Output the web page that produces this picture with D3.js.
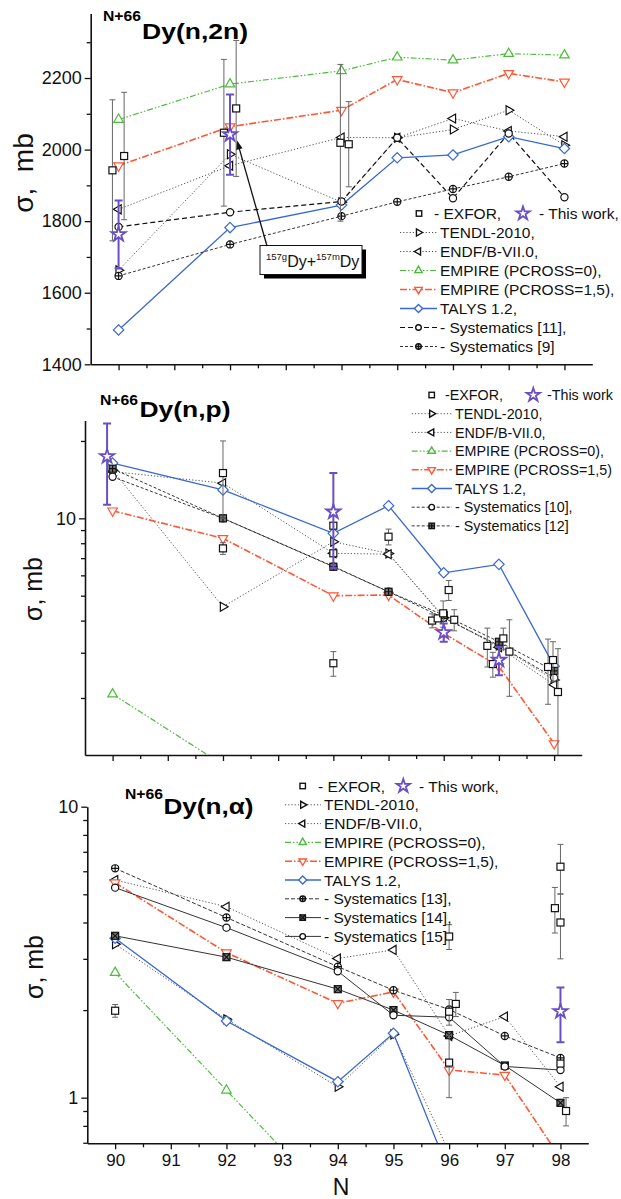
<!DOCTYPE html>
<html><head><meta charset="utf-8">
<script src="https://cdn.jsdelivr.net/npm/d3@7"></script>
<style>
body{margin:0;background:#fff}
text{font-family:"Liberation Sans",Arial,Helvetica,sans-serif}
</style>
</head><body>
<svg id="c" width="621" height="1199" xmlns="http://www.w3.org/2000/svg"></svg>
<script>
// ---------------- DATA ----------------
const N_TICKS = [90, 91, 92, 93, 94, 95, 96, 97, 98];
const N_HALF = [90.5, 91.5, 92.5, 93.5, 94.5, 95.5, 96.5, 97.5];
const N_CALC = [90, 92, 94, 95, 96, 97, 98];

// (n,2n), mb
const n2n_TENDL   = [1663, 1987, 1853, 2033, 2056, 2110, 2012];
const n2n_ENDF    = [1833, 1955, 2034, 2033, 2087, 2052, 2036];
const n2n_EMPIRE0 = [2084, 2183, 2220, 2258, 2250, 2268, 2264];
const n2n_EMPIRE15= [1955, 2064, 2110, 2196, 2159, 2213, 2189];
const n2n_TALYS   = [1496, 1782, 1845, 1977, 1985, 2036, 2003];
const n2n_SYST11  = [1784, 1825, 1855, 2033, 1864, 2045, 1867];
const n2n_SYST9   = [1647, 1735, 1814, 1854, 1890, 1924, 1961];
const n2n_EXFOR_N   = [89.89, 90.1, 91.89, 92.11, 93.98, 94.13];
const n2n_EXFOR_Y   = [1942, 1982, 2047, 2115, 2019, 2015];
const n2n_EXFOR_ERR = [197, 178, 205, 190, 219, 119];
const n2n_THIS_N  = [90, 92];
const n2n_THIS_Y  = [1763, 2042];
const n2n_THIS_LO = [1668, 1930];
const n2n_THIS_HI = [1858, 2154];
const n2n_TICKS = [1400, 1600, 1800, 2000, 2200];
const n2n_MINOR = [1500, 1700, 1900, 2100, 2300];

// (n,p), mb
const np_TENDL    = [15.4, 4.53, 8.11, 7.3, 4.1, 3.2, 2.35];
const np_ENDF     = [15.2, 13.7, 7.31, 7.25, 4.15, 3.15, 2.25];
const np_EMPIRE0_N = [90, 92];
const np_EMPIRE0  = [2.07, 1.1];
const np_EMPIRE15 = [10.7, 8.36, 5.0, 5.03, 3.57, 2.65, 1.33];
const np_TALYS    = [16.4, 12.9, 8.74, 11.2, 6.14, 6.62, 2.66];
const np_SYST10   = [14.5, 10.0, 6.5, 5.18, 4.1, 3.2, 2.4];
const np_SYST12   = [15.6, 10.0, 6.48, 5.18, 4.2, 3.31, 2.55];
const np_EXFOR_N   = [92, 92, 94, 94, 94, 95, 95.79, 95.89, 95.99, 96.09, 96.19, 96.79, 96.89, 97.08, 97.19, 97.89, 97.98, 98.07];
const np_EXFOR_Y   = [15.0, 7.64, 9.36, 7.31, 2.73, 8.48, 4.0, 4.08, 4.27, 5.26, 4.03, 3.19, 2.71, 3.41, 3.03, 2.64, 2.81, 2.11];
const np_EXFOR_ERR = [5.0, 0.4, 0, 0, 0.3, 0.6, 0.25, 0, 0.5, 0.47, 0.38, 0.55, 0.3, 0.33, 1.0, 0.75, 0.5, 1.0];
const np_THIS_N  = [89.9, 94, 96, 97];
const np_THIS_Y  = [17.4, 10.6, 3.6, 2.81];
const np_THIS_LO = [11.3, 6.4, 3.31, 2.45];
const np_THIS_HI = [23.4, 15.0, 3.9, 3.16];
const np_TICKS = [10];
const np_MINOR = [2, 3, 4, 5, 6, 7, 8, 9, 20];

// (n,alpha), mb
const na_TENDL_N  = [90, 92, 94, 95, 96];
const na_TENDL    = [3.37, 1.86, 1.09, 1.65, 0.65];
const na_ENDF     = [5.6, 4.53, 3.01, 3.22, 1.63, 1.9, 1.09];
const na_EMPIRE0_N = [90, 92, 94];
const na_EMPIRE0  = [2.69, 1.06, 0.42];
const na_EMPIRE15 = [5.48, 3.15, 2.11, 2.31, 1.245, 1.196, 0.62];
const na_TALYS_N  = [90, 92, 94, 95, 96];
const na_TALYS    = [3.53, 1.835, 1.135, 1.665, 0.553];
const na_SYST13   = [6.14, 4.16, 2.82, 2.34, 2.01, 1.63, 1.37];
const na_SYST14   = [3.60, 3.04, 2.36, 2.0, 1.64, 1.29, 0.96];
const na_SYST15   = [5.27, 3.84, 2.72, 1.92, 1.89, 1.28, 1.245];
const na_EXFOR_N   = [90, 96, 96, 96.12, 96, 97.9, 98, 98, 98.1, 98];
const na_EXFOR_Y   = [1.99, 3.58, 1.975, 2.1, 1.32, 4.48, 6.22, 4.0, 0.9, 1.31];
const na_EXFOR_ERR = [0.1, 0.35, 0.2, 0.2, 0.32, 0.8, 1.2, 1.0, 0.1, 0];
const na_THIS_N  = [98];
const na_THIS_Y  = [1.98];
const na_THIS_LO = [1.55];
const na_THIS_HI = [2.39];
const na_TICKS = [1, 10];
const na_MINOR = [0.7, 0.8, 0.9, 2, 3, 4, 5, 6, 7, 8, 9];

// ---------------- STYLES ----------------
const GREEN = '#4cbc3c', RED = '#ff5634', BLUE = '#3a68d2', PURPLE = '#6a4fc4';
const ST = {
  TENDL:  {stroke:'#555', dash:'1.2,2', w:1, sym:'tri-r', sc:'#111'},
  ENDF:   {stroke:'#555', dash:'1.2,2', w:1, sym:'tri-l', sc:'#111'},
  EMP0:   {stroke:GREEN, dash:'6,2,1.5,2,1.5,2', w:1.2, sym:'tri-u', sc:GREEN},
  EMP15:  {stroke:RED, dash:'7,2,1.5,2', w:1.6, sym:'tri-d', sc:RED},
  TALYS:  {stroke:BLUE, dash:null, w:1.3, sym:'dia', sc:BLUE},
  SYSa:   {stroke:'#111', dash:'5,3', w:1.2, sym:'circ', sc:'#111'},
  SYSb:   {stroke:'#333', dash:'3,2', w:1, sym:'circ-plus', sc:'#111'},
  SYSc:   {stroke:'#333', dash:'3,2', w:1, sym:'circ', sc:'#111'},
  SYSd:   {stroke:'#333', dash:'3,2', w:1, sym:'sq-plus', sc:'#111'},
  SYSe:   {stroke:'#333', dash:'4,2', w:1, sym:'circ-plus', sc:'#111'},
  SYSf:   {stroke:'#333', dash:null, w:1, sym:'sq-x', sc:'#111'},
  SYSg:   {stroke:'#333', dash:null, w:1, sym:'circ', sc:'#111'}
};

const svg = d3.select('#c');

function triPath(r, ang){
  const pts = [0,120,240].map(a => {
    const t = (ang + a) * Math.PI/180;
    return [r*Math.cos(t), r*Math.sin(t)];
  });
  return 'M' + pts.map(p => p[0].toFixed(2)+','+p[1].toFixed(2)).join('L') + 'Z';
}

function drawSym(g, type, cx, cy, color, k){
  k = k || 1;
  const s = g.append('g').attr('transform', `translate(${cx},${cy}) scale(${k})`);
  const base = {fill:'#fff', stroke:color, 'stroke-width':1.2/k*(k<1?1.15:1)};
  const ap = (el, o) => { for (const kk in o) el.attr(kk, o[kk]); return el; };
  if (type === 'sq') ap(s.append('rect').attr('x',-3.5).attr('y',-3.5).attr('width',7).attr('height',7), base);
  else if (type === 'tri-u') ap(s.append('path').attr('d', triPath(5.5,-90)), base);
  else if (type === 'tri-d') ap(s.append('path').attr('d', triPath(5.5,90)), base);
  else if (type === 'tri-r') ap(s.append('path').attr('d', triPath(5.2,0)), base);
  else if (type === 'tri-l') ap(s.append('path').attr('d', triPath(5.2,180)), base);
  else if (type === 'dia') ap(s.append('path').attr('d','M0,-5.2L5.2,0L0,5.2L-5.2,0Z'), base);
  else if (type === 'circ') ap(s.append('circle').attr('r',3.6), base);
  else if (type === 'circ-plus'){
    ap(s.append('circle').attr('r',3.6), base);
    s.append('path').attr('d','M-3.6,0H3.6M0,-3.6V3.6').attr('stroke',color).attr('stroke-width',base['stroke-width']);
  } else if (type === 'sq-plus'){
    ap(s.append('rect').attr('x',-3.5).attr('y',-3.5).attr('width',7).attr('height',7), base).attr('fill','#777');
    s.append('path').attr('d','M-3.5,0H3.5M0,-3.5V3.5').attr('stroke',color).attr('stroke-width',base['stroke-width']);
  } else if (type === 'sq-x'){
    ap(s.append('rect').attr('x',-3.5).attr('y',-3.5).attr('width',7).attr('height',7), base).attr('fill','#777');
    s.append('path').attr('d','M-3.5,-3.5L3.5,3.5M-3.5,3.5L3.5,-3.5').attr('stroke',color).attr('stroke-width',base['stroke-width']);
  } else if (type === 'star'){
    s.append('path').attr('d', d3.symbol(d3.symbolStar, 62)()).attr('fill','#fff').attr('stroke',color).attr('stroke-width',1.8/k);
  }
}

function panel(cfg){
  const g = svg.append('g');
  const x = d3.scaleLinear().domain([89.5, 98.5]).range([cfg.xl, cfg.xr]);
  const y = cfg.log ? d3.scaleLog().domain(cfg.yDom).range([cfg.yb, cfg.yt])
                    : d3.scaleLinear().domain(cfg.yDom).range([cfg.yb, cfg.yt]);
  const cid = 'clip' + cfg.id;
  svg.append('clipPath').attr('id', cid).append('rect')
    .attr('x', cfg.xl).attr('y', cfg.yt).attr('width', cfg.xr - cfg.xl).attr('height', cfg.yb - cfg.yt);
  const pg = g.append('g').attr('clip-path', `url(#${cid})`);

  const line = d3.line().x(d => x(d[0])).y(d => y(d[1]));
  cfg.series.forEach(s => {
    const st = ST[s.st];
    const pts = s.n.map((n, i) => [n, s.v[i]]);
    const p = pg.append('path').attr('d', line(pts)).attr('fill','none')
      .attr('stroke', st.stroke).attr('stroke-width', st.w);
    if (st.dash) p.attr('stroke-dasharray', st.dash);
  });
  cfg.series.forEach(s => {
    const st = ST[s.st];
    s.n.forEach((n, i) => drawSym(pg, st.sym, x(n), y(s.v[i]), st.sc));
  });
  // EXFOR
  const ex = cfg.exfor;
  ex.n.forEach((n, i) => {
    const e = ex.err[i];
    if (e > 0){
      const lo = Math.max(ex.y[i] - e, cfg.yDom[0] * 0.5);
      const x0 = x(n), y1 = y(ex.y[i] + e), y0 = y(lo);
      pg.append('path').attr('d', `M${x0},${y1}V${y0}M${x0-3},${y1}H${x0+3}M${x0-3},${y0}H${x0+3}`)
        .attr('stroke','#666').attr('stroke-width',1).attr('fill','none');
    }
  });
  ex.n.forEach((n, i) => drawSym(pg, 'sq', x(n), y(ex.y[i]), '#111'));
  // This work
  const tw = cfg.tw;
  tw.n.forEach((n, i) => {
    const x0 = x(n), y1 = y(tw.hi[i]), y0 = y(tw.lo[i]);
    pg.append('path').attr('d', `M${x0},${y1}V${y0}M${x0-4},${y1}H${x0+4}M${x0-4},${y0}H${x0+4}`)
      .attr('stroke', PURPLE).attr('stroke-width',2).attr('fill','none');
  });
  tw.n.forEach((n, i) => drawSym(pg, 'star', x(n), y(tw.y[i]), PURPLE));

  // Axes
  const xa = g.append('g').attr('transform', `translate(0,${cfg.yb})`)
    .call(d3.axisBottom(x).tickValues(N_TICKS).tickSize(6).tickSizeOuter(0)
      .tickFormat(cfg.xLabels ? d3.format('d') : () => ''));
  g.append('g').attr('transform', `translate(0,${cfg.yb})`)
    .call(d3.axisBottom(x).tickValues(N_HALF).tickSize(4).tickFormat(() => ''))
    .call(a => a.select('.domain').remove());
  const fmt = cfg.log ? (d => String(d)) : d3.format('d');
  const ya = g.append('g').attr('transform', `translate(${cfg.xl},0)`)
    .call(d3.axisLeft(y).tickValues(cfg.ticks).tickSize(6).tickSizeOuter(0).tickFormat(fmt));
  g.append('g').attr('transform', `translate(${cfg.xl},0)`)
    .call(d3.axisLeft(y).tickValues(cfg.minor).tickSize(4).tickFormat(() => ''))
    .call(a => a.select('.domain').remove());
  g.selectAll('.domain').attr('stroke','#111').attr('stroke-width',1.6);
  g.selectAll('.tick line').attr('stroke','#111').attr('stroke-width',1.3);
  ya.selectAll('text').attr('font-size', 18).attr('font-family','Liberation Sans, Arial, sans-serif').attr('fill','#111').attr('x', -9);
  xa.selectAll('text').attr('font-size', 17).attr('font-family','Liberation Sans, Arial, sans-serif').attr('fill','#111').attr('y', 11);

  // Title
  g.append('text').attr('x', cfg.title.sx).attr('y', cfg.title.sy).attr('font-size', 14).attr('font-weight','bold')
    .attr('textLength', 38).attr('lengthAdjust','spacingAndGlyphs').text('N+66');
  g.append('text').attr('x', cfg.title.mx).attr('y', cfg.title.my).attr('font-size', 22).attr('font-weight','bold')
    .attr('textLength', cfg.title.mw).attr('lengthAdjust','spacingAndGlyphs').text(cfg.title.text);
  // Y label
  g.append('text').attr('transform', `translate(${cfg.ylab.x},${cfg.ylab.y}) rotate(-90)`)
    .attr('text-anchor','middle').attr('font-size', cfg.ylab.fs).attr('fill','#111')
    .attr('xml:space','preserve').style('white-space','pre').text(cfg.ylab.text);

  // Legend
  const L = cfg.legend;
  const K = 0.78;
  const lg = g.append('g').attr('font-size', L.fs).attr('fill','#111');
  drawSym(lg, 'sq', L.sq, L.y0, '#111', K);
  lg.append('text').attr('x', L.exT).attr('y', L.y0 + L.fs*0.36).text(L.exText);
  drawSym(lg, 'star', L.st, L.y0, PURPLE, 0.95);
  lg.append('text').attr('x', L.twT).attr('y', L.y0 + L.fs*0.36).text(L.twText);
  L.items.forEach((it, i) => {
    const yy = L.y0 + (i + 1) * L.dy;
    const st = ST[it.st];
    const p = lg.append('path').attr('d', `M${L.lx0},${yy}H${L.lx1}`).attr('stroke', st.stroke)
      .attr('stroke-width', st.w).attr('fill','none');
    if (st.dash) p.attr('stroke-dasharray', st.dash);
    drawSym(lg, st.sym, L.sx, yy, st.sc, K);
    lg.append('text').attr('x', L.tx).attr('y', yy + L.fs*0.36).text(it.label);
  });
  return {x, y, g};
}

// ---------- TOP PANEL (n,2n) ----------
const P1 = panel({
  id: 1, xl: 90.7, xr: 592.3, yt: 13.6, yb: 364.3, log: false, yDom: [1400, 2380],
  ticks: n2n_TICKS, minor: n2n_MINOR, xLabels: false,
  series: [
    {st:'TENDL', n:N_CALC, v:n2n_TENDL},
    {st:'ENDF', n:N_CALC, v:n2n_ENDF},
    {st:'EMP0', n:N_CALC, v:n2n_EMPIRE0},
    {st:'EMP15', n:N_CALC, v:n2n_EMPIRE15},
    {st:'TALYS', n:N_CALC, v:n2n_TALYS},
    {st:'SYSa', n:N_CALC, v:n2n_SYST11},
    {st:'SYSb', n:N_CALC, v:n2n_SYST9}
  ],
  exfor: {n:n2n_EXFOR_N, y:n2n_EXFOR_Y, err:n2n_EXFOR_ERR},
  tw: {n:n2n_THIS_N, y:n2n_THIS_Y, lo:n2n_THIS_LO, hi:n2n_THIS_HI},
  title: {sx:103, sy:21, mx:142, my:38.5, mw:106, text:'Dy(n,2n)'},
  ylab: {x:33, y:173, fs:28, text:'σ,  mb'},
  legend: {fs:15.5, y0:213.5, dy:19, sq:419, exT:434, exText:'- EXFOR,', st:523, twT:539, twText:'- This work,',
    lx0:400, lx1:437, sx:418.5, tx:440,
    items:[{st:'TENDL',label:'TENDL-2010,'},{st:'ENDF',label:'ENDF/B-VII.0,'},
      {st:'EMP0',label:'EMPIRE (PCROSS=0),'},{st:'EMP15',label:'EMPIRE (PCROSS=1,5),'},
      {st:'TALYS',label:'TALYS 1.2,'},{st:'SYSa',label:'- Systematics [11],'},{st:'SYSb',label:'- Systematics [9]'}]}
});

// annotation box
(function(){
  const g = P1.g;
  const tx = P1.x(92), ty = P1.y(2042);
  g.append('rect').attr('x', 264).attr('y', 249.5).attr('width', 102).attr('height', 29).attr('fill','#000');
  g.append('rect').attr('x', 260).attr('y', 245.5).attr('width', 102).attr('height', 29)
    .attr('fill','#fff').attr('stroke','#111').attr('stroke-width',1);
  const t = g.append('text').attr('x', 266).attr('y', 267).attr('font-size',16).attr('fill','#111');
  t.append('tspan').attr('font-size',9.5).attr('dy',-7).text('157g');
  t.append('tspan').attr('dy',7).text('Dy+');
  t.append('tspan').attr('font-size',9.5).attr('dy',-7).text('157m');
  t.append('tspan').attr('dy',7).text('Dy');
  const x0 = 267, y0 = 246, x1 = tx + 7, y1 = ty + 6;
  const ang = Math.atan2(y1 - y0, x1 - x0);
  g.append('path').attr('d', `M${x0},${y0}L${x1 - 6*Math.cos(ang)},${y1 - 6*Math.sin(ang)}`)
    .attr('stroke','#111').attr('stroke-width',1.3);
  const hl = 9, hw = 3.2;
  const bx = x1 - hl*Math.cos(ang), by = y1 - hl*Math.sin(ang);
  g.append('path').attr('d', `M${x1},${y1}L${bx + hw*Math.sin(ang)},${by - hw*Math.cos(ang)}L${bx - hw*Math.sin(ang)},${by + hw*Math.cos(ang)}Z`)
    .attr('fill','#111');
})();

// ---------- MIDDLE PANEL (n,p) ----------
panel({
  id: 2, xl: 85, xr: 581.7, yt: 420.6, yb: 755, log: true, yDom: [1.2, 24],
  ticks: np_TICKS, minor: np_MINOR, xLabels: false,
  series: [
    {st:'TENDL', n:N_CALC, v:np_TENDL},
    {st:'ENDF', n:N_CALC, v:np_ENDF},
    {st:'EMP0', n:np_EMPIRE0_N, v:np_EMPIRE0},
    {st:'EMP15', n:N_CALC, v:np_EMPIRE15},
    {st:'TALYS', n:N_CALC, v:np_TALYS},
    {st:'SYSc', n:N_CALC, v:np_SYST10},
    {st:'SYSd', n:N_CALC, v:np_SYST12}
  ],
  exfor: {n:np_EXFOR_N, y:np_EXFOR_Y, err:np_EXFOR_ERR},
  tw: {n:np_THIS_N, y:np_THIS_Y, lo:np_THIS_LO, hi:np_THIS_HI},
  title: {sx:100, sy:405, mx:139.5, my:416.5, mw:91, text:'Dy(n,p)'},
  ylab: {x:42, y:589, fs:25, text:'σ, mb'},
  legend: {fs:14.3, y0:395, dy:18.7, sq:431.7, exT:445, exText:'-EXFOR,', st:533.3, twT:547, twText:'-This work',
    lx0:411.7, lx1:452, sx:431.7, tx:455,
    items:[{st:'TENDL',label:'TENDL-2010,'},{st:'ENDF',label:'ENDF/B-VII.0,'},
      {st:'EMP0',label:'EMPIRE (PCROSS=0),'},{st:'EMP15',label:'EMPIRE (PCROSS=1,5)'},
      {st:'TALYS',label:'TALYS 1.2,'},{st:'SYSc',label:'- Systematics [10],'},{st:'SYSd',label:'- Systematics [12]'}]}
});

// ---------- BOTTOM PANEL (n,alpha) ----------
panel({
  id: 3, xl: 87.3, xr: 588.3, yt: 806.7, yb: 1143.3, log: true, yDom: [0.697, 10],
  ticks: na_TICKS, minor: na_MINOR, xLabels: true,
  series: [
    {st:'TENDL', n:na_TENDL_N, v:na_TENDL},
    {st:'ENDF', n:N_CALC, v:na_ENDF},
    {st:'EMP0', n:na_EMPIRE0_N, v:na_EMPIRE0},
    {st:'EMP15', n:N_CALC, v:na_EMPIRE15},
    {st:'TALYS', n:na_TALYS_N, v:na_TALYS},
    {st:'SYSe', n:N_CALC, v:na_SYST13},
    {st:'SYSf', n:N_CALC, v:na_SYST14},
    {st:'SYSg', n:N_CALC, v:na_SYST15}
  ],
  exfor: {n:na_EXFOR_N, y:na_EXFOR_Y, err:na_EXFOR_ERR},
  tw: {n:na_THIS_N, y:na_THIS_Y, lo:na_THIS_LO, hi:na_THIS_HI},
  title: {sx:125, sy:798.5, mx:163.5, my:814, mw:90, text:'Dy(n,α)'},
  ylab: {x:43, y:967, fs:25, text:'σ, mb'},
  legend: {fs:15.5, y0:786, dy:18.8, sq:302.7, exT:318, exText:'- EXFOR,', st:403.3, twT:419, twText:'- This work,',
    lx0:285, lx1:321, sx:302.7, tx:324,
    items:[{st:'TENDL',label:'TENDL-2010,'},{st:'ENDF',label:'ENDF/B-VII.0,'},
      {st:'EMP0',label:'EMPIRE (PCROSS=0),'},{st:'EMP15',label:'EMPIRE (PCROSS=1,5),'},
      {st:'TALYS',label:'TALYS 1.2,'},{st:'SYSe',label:'- Systematics [13],'},{st:'SYSf',label:'- Systematics [14],'},
      {st:'SYSg',label:'- Systematics [15]'}]}
});

// x-axis title
svg.append('text').attr('x', 341).attr('y', 1195).attr('text-anchor','middle')
  .attr('font-size', 23).attr('fill','#111').text('N');
</script>
</body></html>
